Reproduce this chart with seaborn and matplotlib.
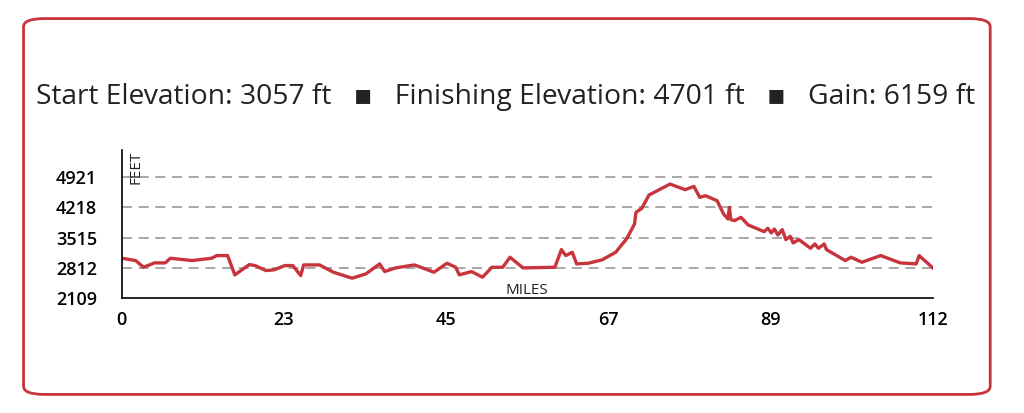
import matplotlib
matplotlib.use("Agg")
import matplotlib.pyplot as plt
from matplotlib.patches import FancyBboxPatch
import seaborn as sns
import pandas as pd

miles = [0, 1.9, 3.0, 4.5, 6.0, 6.7, 9.7, 12.4, 13.1, 14.6, 15.6, 17.6, 18.4, 19.9, 21.0, 22.5,
         23.6, 24.7, 25.1, 27.3, 29.2, 31.8, 33.7, 35.6, 36.3, 37.8, 40.4, 43.1, 44.9, 46.1, 46.6,
         48.3, 49.8, 51.1, 52.6, 53.6, 55.4, 59.8, 60.7, 61.3, 62.2, 62.8, 64.4, 66.3, 68.2, 69.7,
         70.8, 71.0, 71.8, 72.8, 75.7, 77.8, 79.0, 79.8, 80.6, 82.2, 83.1, 83.7, 83.9, 84.1, 84.6,
         85.5, 86.5, 88.7, 89.2, 89.7, 90.1, 90.6, 91.2, 91.7, 92.3, 92.7, 93.5, 95.1, 95.7, 96.2,
         97.0, 97.3, 99.9, 100.7, 102.2, 104.8, 107.5, 109.7, 110.1, 112]
feet = [3036, 2982, 2827, 2928, 2928, 3036, 2982, 3036, 3098, 3098, 2650, 2889, 2866, 2750, 2766, 2866,
        2866, 2634, 2881, 2881, 2712, 2573, 2673, 2905, 2727, 2812, 2881, 2712, 2920, 2827, 2650,
        2727, 2596, 2827, 2827, 3059, 2812, 2827, 3237, 3098, 3175, 2905, 2920, 2997, 3175, 3484,
        3831, 4101, 4194, 4503, 4757, 4626, 4703, 4449, 4487, 4371, 4063, 3947, 4217, 3931, 3908,
        3985, 3808, 3653, 3731, 3623, 3715, 3576, 3700, 3468, 3545, 3391, 3468, 3267, 3368, 3267,
        3368, 3237, 2982, 3059, 2943, 3098, 2928, 2905, 3098, 2812]
y_ticks = [2109, 2812, 3515, 4218, 4921]
x_tick_labels = ["0", "23", "45", "67", "89", "112"]
x_tick_pos = [0, 22.4, 44.8, 67.2, 89.6, 112]
title = "Start Elevation: 3057 ft   \u25aa   Finishing Elevation: 4701 ft   \u25aa   Gain: 6159 ft"

plt.rcParams["font.family"] = ["Open Sans", "DejaVu Sans"]
fig = plt.figure(figsize=(10.24, 4.13), dpi=100)
fig.patches.append(FancyBboxPatch((0.023, 0.045), 0.944, 0.91, boxstyle="round,pad=0,rounding_size=0.02",
                                  transform=fig.transFigure, fill=False, edgecolor="#c8343b", linewidth=2))
fig.text(0.494, 0.765, title, ha="center", va="center", fontsize=20.3, color="#222222")

ax = fig.add_axes([0.119, 0.278, 0.792, 0.358])
df = pd.DataFrame({"miles": miles, "feet": feet})
sns.lineplot(data=df, x="miles", y="feet", ax=ax, color="#c8343b", linewidth=2.4)
for t in y_ticks[1:]:
    ax.axhline(t, color="#999999", linestyle=(0, (6, 4)), linewidth=1.2, zorder=0)
ax.set_xlim(0, 112)
ax.set_ylim(2109, 5540)
ax.set_yticks(y_ticks)
ax.set_yticklabels([str(t) for t in y_ticks], fontweight="semibold", fontsize=13)
ax.set_xticks(x_tick_pos)
ax.set_xticklabels(x_tick_labels, fontweight="semibold", fontsize=13)
ax.tick_params(length=0, pad=9)
ax.tick_params(axis="y", pad=18)
for s in ["top", "right"]:
    ax.spines[s].set_visible(False)
ax.spines["left"].set_linewidth(1.2)
ax.spines["bottom"].set_linewidth(1.2)
ax.set_xlabel("")
ax.set_ylabel("")
ax.text(0.5, 0.0, "MILES", transform=ax.transAxes, ha="center", va="bottom", fontsize=11, color="#222222")
ax.text(0.008, 1.0, "FEET", transform=ax.transAxes, rotation=90, ha="left", va="top", fontsize=11, color="#222222")
fig.savefig("out.png", dpi=100)
